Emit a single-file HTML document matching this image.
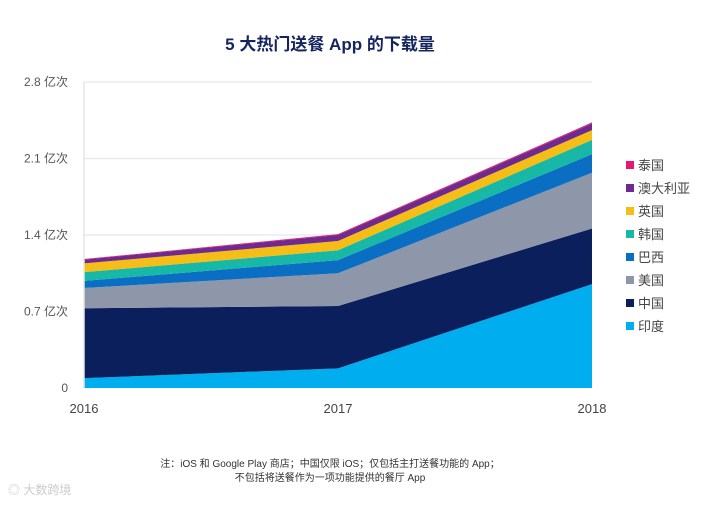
<!DOCTYPE html>
<html><head><meta charset="utf-8">
<style>
body{margin:0;background:#fff;width:706px;height:504px;overflow:hidden;font-family:"Liberation Sans","Noto Sans CJK SC",sans-serif;}
</style></head><body>
<svg id="chart" width="706" height="504" xmlns="http://www.w3.org/2000/svg" font-family="Liberation Sans, Noto Sans CJK SC, sans-serif">
<text x="330" y="50" text-anchor="middle" font-size="17" font-weight="bold" fill="#14245e">5 大热门送餐 App 的下载量</text>
<g id="grid"></g><g id="areas"></g><g id="axes"></g><g id="legend"></g>
<text x="330" y="467" text-anchor="middle" font-size="10" fill="#333">注：iOS 和 Google Play 商店；中国仅限 iOS；仅包括主打送餐功能的 App；</text>
<text x="330" y="481" text-anchor="middle" font-size="10" fill="#333">不包括将送餐作为一项功能提供的餐厅 App</text>
<text x="8" y="494" font-size="12" fill="#ccc">◎ 大数跨境</text>
</svg>
<script>
const years = ["2016","2017","2018"];
const seriesNames = ["印度","中国","美国","巴西","韩国","英国","澳大利亚","泰国"];
const colors = ["#00adef","#0a1f5c","#8e97aa","#0a6fc2","#17b9a6","#f6bd16","#6e2a8e","#e5186f"];
const india = [0.09,0.18,0.95];
const china = [0.64,0.57,0.51];
const usa = [0.185,0.30,0.51];
const brazil = [0.065,0.12,0.17];
const korea = [0.08,0.09,0.13];
const uk = [0.08,0.085,0.09];
const australia = [0.035,0.055,0.06];
const thailand = [0.005,0.008,0.01];
const yTicks = [0,0.7,1.4,2.1,2.8];
const yTickLabels = ["0","0.7 亿次","1.4 亿次","2.1 亿次","2.8 亿次"];
const series = [india,china,usa,brazil,korea,uk,australia,thailand];

const NS="http://www.w3.org/2000/svg";
const x0=84,x1=592,yb=388,yt=82,ymax=2.8;
const xs=i=>x0+(x1-x0)*i/(years.length-1);
const ys=v=>yb-(yb-yt)*v/ymax;
function mk(t,a,p){const e=document.createElementNS(NS,t);for(const k in a)e.setAttribute(k,a[k]);p.appendChild(e);return e;}
const grid=document.getElementById('grid'),areas=document.getElementById('areas'),axes=document.getElementById('axes'),legend=document.getElementById('legend');
yTicks.forEach((v,i)=>{
  if(v>0){const l=mk('line',{x1:x0,x2:x1,y1:ys(v),y2:ys(v),stroke:'#ebebeb','stroke-width':1.5},grid);
  
  }
  const t=mk('text',{x:68,y:ys(v)+4,'text-anchor':'end','font-size':12,fill:'#555'},axes);
  t.textContent=yTickLabels[i];
  
  
});
const al=mk('line',{x1:x0,x2:x0,y1:yt,y2:yb,stroke:'#e5e5e5','stroke-width':1.5},axes);


years.forEach((y,i)=>{
  const t=mk('text',{x:xs(i),y:413,'text-anchor':'middle','font-size':13,fill:'#444'},axes);
  t.textContent=y;
  
  
});
let base=years.map(()=>0);
series.forEach((s,k)=>{
  const top=base.map((b,i)=>b+s[i]);
  let d='M'+years.map((_,i)=>xs(i)+','+ys(top[i])).join('L');
  for(let i=years.length-1;i>=0;i--)d+='L'+xs(i)+','+ys(base[i]);
  d+='Z';
  const p=mk('path',{d:d,fill:colors[k]},areas);
  
  
  base=top;
});
for(let k=seriesNames.length-1;k>=0;k--){
  const j=seriesNames.length-1-k, y=165+j*23;
  const g=mk('g',{},legend);
  
  
  mk('rect',{x:626,y:y-4,width:8,height:8,fill:colors[k]},g);
  const t=mk('text',{x:638,y:y+5,'font-size':13,fill:'#444'},g);
  t.textContent=seriesNames[k];
}
</script>
</body></html>
